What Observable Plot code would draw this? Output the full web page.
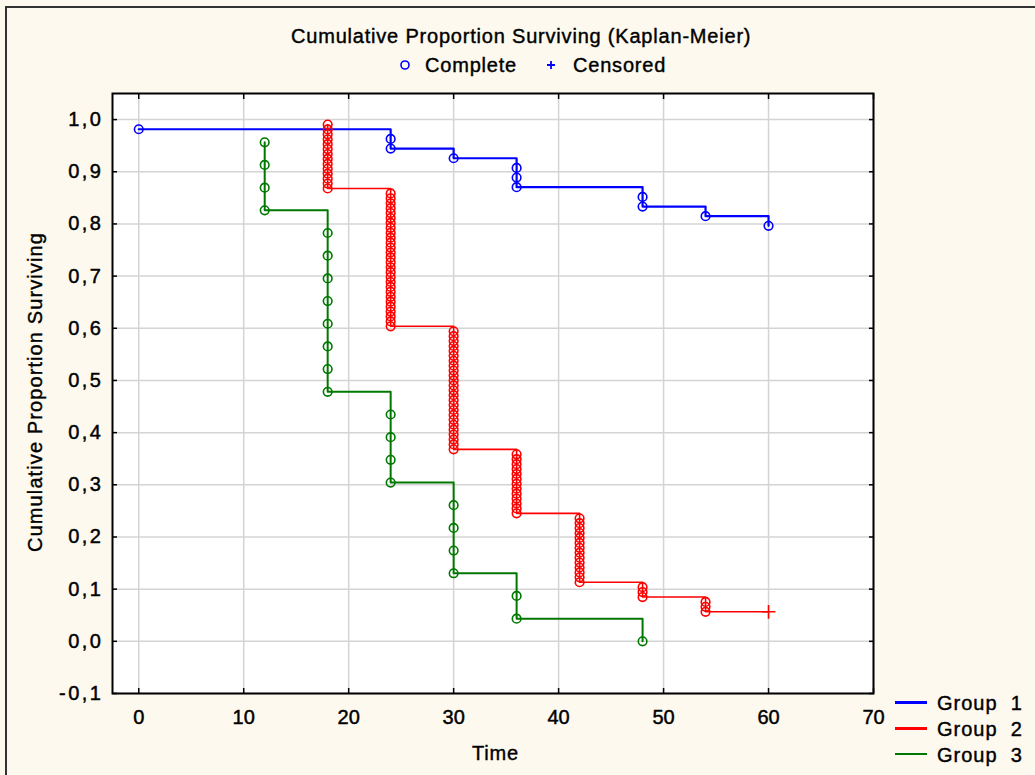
<!DOCTYPE html>
<html><head><meta charset="utf-8">
<script src="https://cdn.jsdelivr.net/npm/d3@7"></script>
<script src="https://cdn.jsdelivr.net/npm/@observablehq/plot@0.6"></script>
<style>
html,body{margin:0;padding:0;}
body{width:1035px;height:775px;background:#fdf9ef;position:relative;overflow:hidden;font-family:"Liberation Sans",Arial,sans-serif;color:#000;}
#border{position:absolute;left:5px;top:6px;width:1100px;height:900px;border-left:2px solid #333;border-top:2px solid #333;}
#chart{position:absolute;left:0;top:0;}
#chart svg text{stroke:#000;stroke-width:0.45px;}
.t{position:absolute;white-space:pre;font-size:20px;line-height:20px;-webkit-text-stroke:0.4px #000;}
.sw{position:absolute;width:32px;}
</style></head><body>
<div id="border"></div>
<div id="chart"></div>
<div class="t" style="left:291px;top:26px;letter-spacing:0.8px">Cumulative Proportion Surviving (Kaplan-Meier)</div>
<svg style="position:absolute;left:399px;top:59px" width="12" height="12"><circle cx="6" cy="6" r="4" fill="none" stroke="#0000ff" stroke-width="1.6"/></svg>
<div class="t" style="left:425px;top:55px;letter-spacing:0.8px">Complete</div>
<svg style="position:absolute;left:545px;top:59px" width="12" height="12"><path d="M6,2V10M2,6H10" stroke="#0000ff" stroke-width="1.8"/></svg>
<div class="t" style="left:573px;top:55px;letter-spacing:0.8px">Censored</div>
<div class="t" style="left:472px;top:743px;letter-spacing:0.8px">Time</div>
<div class="t" style="left:-165px;top:382px;width:400px;text-align:center;transform:rotate(-90deg);letter-spacing:1.1px">Cumulative Proportion Surviving</div>
<div id="legend"></div>
<script>
// ---- data ----
const groupNames = ["Group 1", "Group 2", "Group 3"];
const groupColors = ["#0000ff", "#ff0000", "#007800"];
const groupWidths = [2.2, 1.6, 2];
const legendWidths = [3, 3, 2];

// Group 1 (n = 54)
const g1N = 54;
const g1Times = [0, 24, 30, 36, 48, 54, 60];
const g1Deaths = [1, 2, 1, 3, 2, 1, 1];
const g1Censored = [0, 0, 0, 0, 0, 0, 0];

// Group 2 (n = 106)
const g2N = 106;
const g2Times = [18, 24, 30, 36, 42, 48, 54, 60];
const g2Deaths = [14, 28, 25, 13, 14, 3, 3, 0];
const g2Censored = [0, 0, 0, 0, 0, 0, 0, 6];

// Group 3 (n = 23)
const g3N = 23;
const g3Times = [12, 18, 24, 30, 36, 48];
const g3Deaths = [4, 8, 4, 4, 2, 1];
const g3Censored = [0, 0, 0, 0, 0, 0];

const xTicks = [0, 10, 20, 30, 40, 50, 60, 70];
const yTicks = [-0.1, 0, 0.1, 0.2, 0.3, 0.4, 0.5, 0.6, 0.7, 0.8, 0.9, 1.0];

// ---- Kaplan-Meier product-limit from the counts ----
function km(name, N, times, deaths, cens) {
  const pts = [];
  let S = 1, atRisk = N;
  times.forEach((t, i) => {
    const d = deaths[i], c = cens[i];
    for (let j = 1; j <= d; j++) pts.push({group: name, t, s: S * (atRisk - j) / atRisk, type: "Complete"});
    if (d > 0) S *= (atRisk - d) / atRisk;
    if (c > 0) pts.push({group: name, t, s: S, type: "Censored"});
    atRisk -= d + c;
  });
  return pts;
}
const series = [
  km("Group 1", g1N, g1Times, g1Deaths, g1Censored),
  km("Group 2", g2N, g2Times, g2Deaths, g2Censored),
  km("Group 3", g3N, g3Times, g3Deaths, g3Censored)
];
const allPts = series.flat();

const fmt = d => d.toFixed(1).replace(".", ",");
const color = {type: "ordinal", domain: groupNames, range: groupColors};

const plot = Plot.plot({
  width: 1035, height: 775,
  marginLeft: 112, marginRight: 162, marginTop: 93, marginBottom: 82,
  style: {background: "transparent", fontFamily: "'Liberation Sans', Arial, sans-serif", fontSize: "20px", color: "#000", overflow: "visible"},
  x: {domain: [-2.5, 70]},
  y: {domain: [-0.1, 1.05]},
  color,
  marks: [
    Plot.frame({fill: "white", stroke: null}),
    Plot.gridX(xTicks, {stroke: "#d4d4d4", strokeOpacity: 1, strokeWidth: 1.5}),
    Plot.gridY(yTicks, {stroke: "#d4d4d4", strokeOpacity: 1, strokeWidth: 1.5}),
    Plot.axisX(xTicks, {anchor: "bottom", tickSize: -5, tickPadding: 21, label: null, tickFormat: d => String(d), strokeWidth: 1.5}),
    Plot.axisX(xTicks, {anchor: "top", tickSize: -5, label: null, tickFormat: () => "", strokeWidth: 1.5}),
    Plot.axisY(yTicks, {anchor: "left", tickSize: -5, tickPadding: 14, label: null, tickFormat: fmt, strokeWidth: 1.5}),
    Plot.axisY(yTicks, {anchor: "right", tickSize: -5, label: null, tickFormat: () => "", strokeWidth: 1.5}),
    ...series.map((pts, i) => Plot.line(pts, {x: "t", y: "s", stroke: "group", curve: "step-after", strokeWidth: groupWidths[i]})),
    Plot.dot(allPts.filter(d => d.type === "Complete"), {x: "t", y: "s", stroke: "group", r: 4.3, strokeWidth: 1.6}),
    Plot.dot(allPts.filter(d => d.type === "Censored"), {x: "t", y: "s", stroke: "group", symbol: "plus", r: 4.5, strokeWidth: 1.6}),
    Plot.frame({stroke: "#000", strokeWidth: 2})
  ]
});
document.getElementById("chart").appendChild(plot);
// widen y tick labels (Windows-style comma spacing)
plot.querySelectorAll('g[aria-label="y-axis tick label"] text').forEach(t => t.setAttribute("letter-spacing", "2.5"));

// group legend (bottom right)
const lg = document.getElementById("legend");
const lineY = [702, 728, 754];
groupNames.forEach((g, i) => {
  const sw = document.createElement("div");
  sw.className = "sw";
  sw.style.left = "895px";
  sw.style.top = (lineY[i] - 1) + "px";
  sw.style.height = legendWidths[i] + "px";
  sw.style.background = groupColors[i];
  lg.appendChild(sw);
  const tx = document.createElement("div");
  tx.className = "t";
  tx.style.left = "937px";
  tx.style.top = (lineY[i] - 9) + "px";
  tx.style.letterSpacing = "1px";
  tx.textContent = g.replace(" ", "  ");
  lg.appendChild(tx);
});
</script>
</body></html>
